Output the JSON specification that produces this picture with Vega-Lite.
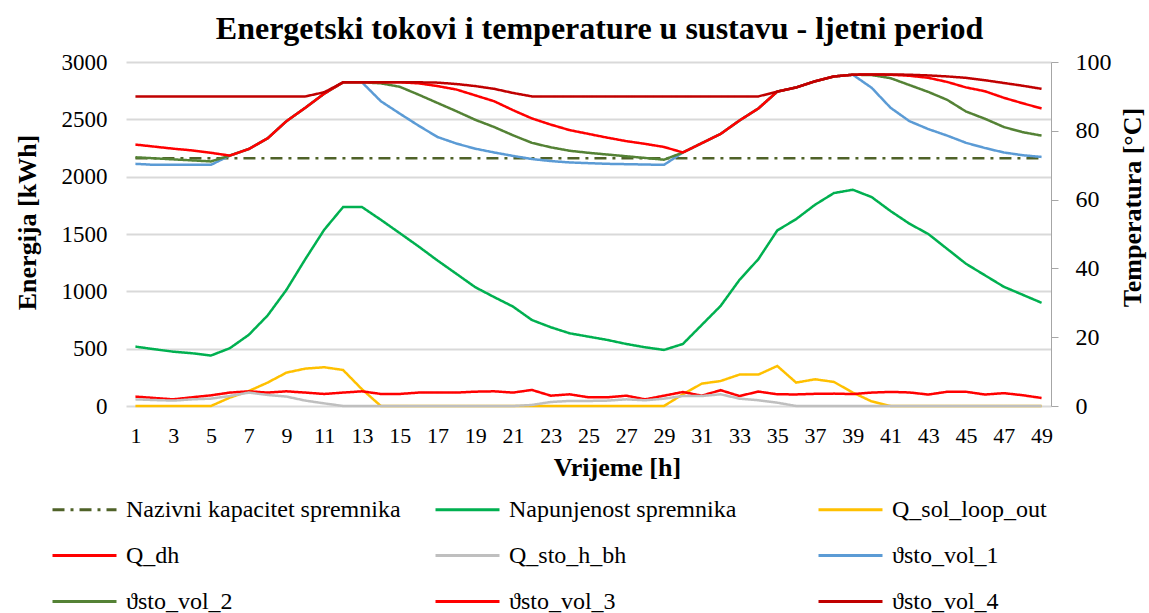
{
  "$schema": "https://vega.github.io/schema/vega-lite/v6.json",
  "autosize": {"type": "none"},
  "padding": {"left": 126, "top": 62, "right": 98, "bottom": 207},
  "width": 925,
  "height": 344,
  "background": "white",
  "title": {
    "text": "Energetski tokovi i temperature u sustavu - ljetni period",
    "font": "Times New Roman, Liberation Serif, serif",
    "fontSize": 32,
    "fontWeight": "bold",
    "color": "black",
    "anchor": "middle",
    "frame": "group",
    "dx": 11,
    "offset": 4
  },
  "data": {
    "values": [
      {"h":1,"naz":2160,"nap":518,"qsol":0,"qdh":82,"qbh":58,"t1":70.4,"t2":72.3,"t3":76.0,"t4":90},
      {"h":2,"naz":2160,"nap":495,"qsol":0,"qdh":70,"qbh":52,"t1":70.1,"t2":72.0,"t3":75.4,"t4":90},
      {"h":3,"naz":2160,"nap":474,"qsol":0,"qdh":58,"qbh":47,"t1":70.1,"t2":71.7,"t3":74.8,"t4":90},
      {"h":4,"naz":2160,"nap":460,"qsol":0,"qdh":76,"qbh":58,"t1":70.1,"t2":71.4,"t3":74.3,"t4":90},
      {"h":5,"naz":2160,"nap":440,"qsol":0,"qdh":93,"qbh":64,"t1":70.1,"t2":71.1,"t3":73.6,"t4":90},
      {"h":6,"naz":2160,"nap":504,"qsol":73,"qdh":117,"qbh":87,"t1":72.8,"t2":72.8,"t3":72.8,"t4":90},
      {"h":7,"naz":2160,"nap":620,"qsol":130,"qdh":128,"qbh":117,"t1":74.7,"t2":74.7,"t3":74.7,"t4":90},
      {"h":8,"naz":2160,"nap":789,"qsol":204,"qdh":117,"qbh":96,"t1":77.8,"t2":77.8,"t3":77.8,"t4":90},
      {"h":9,"naz":2160,"nap":1013,"qsol":291,"qdh":128,"qbh":82,"t1":82.8,"t2":82.8,"t3":82.8,"t4":90},
      {"h":10,"naz":2160,"nap":1281,"qsol":326,"qdh":117,"qbh":47,"t1":86.7,"t2":86.7,"t3":86.7,"t4":90},
      {"h":11,"naz":2160,"nap":1537,"qsol":338,"qdh":105,"qbh":23,"t1":90.8,"t2":90.8,"t3":90.8,"t4":91.2},
      {"h":12,"naz":2160,"nap":1735,"qsol":314,"qdh":117,"qbh":0,"t1":94.1,"t2":94.1,"t3":94.1,"t4":94.1},
      {"h":13,"naz":2160,"nap":1735,"qsol":146,"qdh":128,"qbh":0,"t1":94.1,"t2":94.1,"t3":94.1,"t4":94.1},
      {"h":14,"naz":2160,"nap":1624,"qsol":0,"qdh":105,"qbh":0,"t1":88.6,"t2":93.8,"t3":94.1,"t4":94.1},
      {"h":15,"naz":2160,"nap":1508,"qsol":0,"qdh":105,"qbh":0,"t1":85.0,"t2":92.8,"t3":94.1,"t4":94.1},
      {"h":16,"naz":2160,"nap":1391,"qsol":0,"qdh":117,"qbh":0,"t1":81.5,"t2":90.5,"t3":93.8,"t4":94.1},
      {"h":17,"naz":2160,"nap":1269,"qsol":0,"qdh":117,"qbh":0,"t1":78.2,"t2":88.1,"t3":93.0,"t4":94.0},
      {"h":18,"naz":2160,"nap":1153,"qsol":0,"qdh":117,"qbh":0,"t1":76.3,"t2":85.7,"t3":92.0,"t4":93.6},
      {"h":19,"naz":2160,"nap":1036,"qsol":0,"qdh":125,"qbh":0,"t1":74.8,"t2":83.2,"t3":90.3,"t4":93.0},
      {"h":20,"naz":2160,"nap":950,"qsol":0,"qdh":128,"qbh":0,"t1":73.7,"t2":81.1,"t3":88.6,"t4":92.2},
      {"h":21,"naz":2160,"nap":867,"qsol":0,"qdh":117,"qbh":0,"t1":72.7,"t2":78.7,"t3":86.0,"t4":91.0},
      {"h":22,"naz":2160,"nap":750,"qsol":0,"qdh":140,"qbh":9,"t1":71.8,"t2":76.5,"t3":83.6,"t4":90},
      {"h":23,"naz":2160,"nap":687,"qsol":0,"qdh":90,"qbh":35,"t1":71.2,"t2":75.2,"t3":81.8,"t4":90},
      {"h":24,"naz":2160,"nap":634,"qsol":0,"qdh":102,"qbh":44,"t1":70.8,"t2":74.2,"t3":80.2,"t4":90},
      {"h":25,"naz":2160,"nap":605,"qsol":0,"qdh":76,"qbh":44,"t1":70.6,"t2":73.6,"t3":79.1,"t4":90},
      {"h":26,"naz":2160,"nap":576,"qsol":0,"qdh":76,"qbh":47,"t1":70.4,"t2":73.1,"t3":78.0,"t4":90},
      {"h":27,"naz":2160,"nap":541,"qsol":0,"qdh":90,"qbh":58,"t1":70.3,"t2":72.6,"t3":77.0,"t4":90},
      {"h":28,"naz":2160,"nap":512,"qsol":0,"qdh":58,"qbh":50,"t1":70.2,"t2":72.1,"t3":76.2,"t4":90},
      {"h":29,"naz":2160,"nap":489,"qsol":0,"qdh":90,"qbh":64,"t1":70.1,"t2":71.6,"t3":75.3,"t4":90},
      {"h":30,"naz":2160,"nap":541,"qsol":102,"qdh":122,"qbh":87,"t1":73.7,"t2":73.7,"t3":73.7,"t4":90},
      {"h":31,"naz":2160,"nap":707,"qsol":195,"qdh":90,"qbh":87,"t1":76.4,"t2":76.4,"t3":76.4,"t4":90},
      {"h":32,"naz":2160,"nap":873,"qsol":218,"qdh":138,"qbh":102,"t1":79.1,"t2":79.1,"t3":79.1,"t4":90},
      {"h":33,"naz":2160,"nap":1100,"qsol":274,"qdh":87,"qbh":64,"t1":83.0,"t2":83.0,"t3":83.0,"t4":90},
      {"h":34,"naz":2160,"nap":1281,"qsol":274,"qdh":126,"qbh":50,"t1":86.5,"t2":86.5,"t3":86.5,"t4":90},
      {"h":35,"naz":2160,"nap":1531,"qsol":349,"qdh":102,"qbh":29,"t1":91.4,"t2":91.4,"t3":91.4,"t4":91.4},
      {"h":36,"naz":2160,"nap":1630,"qsol":204,"qdh":101,"qbh":0,"t1":92.6,"t2":92.6,"t3":92.6,"t4":92.6},
      {"h":37,"naz":2160,"nap":1755,"qsol":233,"qdh":106,"qbh":0,"t1":94.4,"t2":94.4,"t3":94.4,"t4":94.4},
      {"h":38,"naz":2160,"nap":1857,"qsol":210,"qdh":108,"qbh":0,"t1":95.8,"t2":95.8,"t3":95.8,"t4":95.8},
      {"h":39,"naz":2160,"nap":1886,"qsol":117,"qdh":104,"qbh":0,"t1":96.3,"t2":96.3,"t3":96.3,"t4":96.3},
      {"h":40,"naz":2160,"nap":1822,"qsol":40,"qdh":117,"qbh":0,"t1":92.5,"t2":96.2,"t3":96.4,"t4":96.4},
      {"h":41,"naz":2160,"nap":1700,"qsol":0,"qdh":123,"qbh":0,"t1":86.7,"t2":95.3,"t3":96.3,"t4":96.4},
      {"h":42,"naz":2160,"nap":1590,"qsol":0,"qdh":118,"qbh":0,"t1":82.8,"t2":93.3,"t3":96.0,"t4":96.3},
      {"h":43,"naz":2160,"nap":1500,"qsol":0,"qdh":100,"qbh":0,"t1":80.5,"t2":91.3,"t3":95.4,"t4":96.1},
      {"h":44,"naz":2160,"nap":1370,"qsol":0,"qdh":124,"qbh":0,"t1":78.6,"t2":89.0,"t3":94.2,"t4":95.8},
      {"h":45,"naz":2160,"nap":1240,"qsol":0,"qdh":124,"qbh":0,"t1":76.5,"t2":85.6,"t3":92.6,"t4":95.4},
      {"h":46,"naz":2160,"nap":1140,"qsol":0,"qdh":100,"qbh":0,"t1":75.0,"t2":83.5,"t3":91.5,"t4":94.7},
      {"h":47,"naz":2160,"nap":1040,"qsol":0,"qdh":112,"qbh":0,"t1":73.7,"t2":81.1,"t3":89.6,"t4":93.9},
      {"h":48,"naz":2160,"nap":970,"qsol":0,"qdh":94,"qbh":0,"t1":72.9,"t2":79.6,"t3":88.0,"t4":93.1},
      {"h":49,"naz":2160,"nap":900,"qsol":0,"qdh":70,"qbh":0,"t1":72.4,"t2":78.6,"t3":86.5,"t4":92.2}
    ]
  },
  "encoding": {
    "x": {
      "field": "h",
      "type": "quantitative",
      "scale": {"domain": [0.5, 49.5], "nice": false, "zero": false},
      "axis": {
        "title": "Vrijeme [h]",
        "values": [1,3,5,7,9,11,13,15,17,19,21,23,25,27,29,31,33,35,37,39,41,43,45,47,49],
        "format": "d",
        "ticks": false,
        "tickSize": 0,
        "domain": false,
        "grid": false,
        "labelFont": "Times New Roman, Liberation Serif, serif",
        "labelFontSize": 22,
        "labelColor": "black",
        "labelPadding": 19,
        "labelFlush": false,
        "labelOverlap": false,
        "titleFont": "Times New Roman, Liberation Serif, serif",
        "titleFontSize": 26,
        "titleFontWeight": "bold",
        "titleColor": "black",
        "titleX": 491,
        "titlePadding": 8
      }
    },
    "color": {
      "field": "s",
      "type": "nominal",
      "scale": {
        "domain": ["naz","nap","qsol","qdh","qbh","t1","t2","t3","t4"],
        "range": ["#4F6228","#00B050","#FFC000","#FF0000","#BFBFBF","#5B9BD5","#548235","#FF0000","#C00000"]
      },
      "legend": {
        "orient": "none",
        "legendX": -75,
        "legendY": 414,
        "title": null,
        "direction": "horizontal",
        "columns": 3,
        "labelFont": "Times New Roman, Liberation Serif, serif",
        "labelFontSize": 24,
        "labelExpr": "{'naz':'Nazivni kapacitet spremnika','nap':'Napunjenost spremnika','qsol':'Q_sol_loop_out','qdh':'Q_dh','qbh':'Q_sto_h_bh','t1':'ϑsto_vol_1','t2':'ϑsto_vol_2','t3':'ϑsto_vol_3','t4':'ϑsto_vol_4'}[datum.label]"
      }
    },
    "strokeDash": {
      "field": "s",
      "type": "nominal",
      "scale": {
        "domain": ["naz","nap","qsol","qdh","qbh","t1","t2","t3","t4"],
        "range": [[12,6,3,6],[1,0],[1,0],[1,0],[1,0],[1,0],[1,0],[1,0],[1,0]]
      },
      "legend": {
        "orient": "none",
        "legendX": -75,
        "legendY": 414,
        "title": null,
        "direction": "horizontal",
        "columns": 3,
        "labelFont": "Times New Roman, Liberation Serif, serif",
        "labelFontSize": 24,
        "labelExpr": "{'naz':'Nazivni kapacitet spremnika','nap':'Napunjenost spremnika','qsol':'Q_sol_loop_out','qdh':'Q_dh','qbh':'Q_sto_h_bh','t1':'ϑsto_vol_1','t2':'ϑsto_vol_2','t3':'ϑsto_vol_3','t4':'ϑsto_vol_4'}[datum.label]"
      }
    }
  },
  "layer": [
    {
      "transform": [{"fold": ["naz","nap","qsol","qdh","qbh"], "as": ["s","v"]}],
      "mark": {"type": "line", "strokeWidth": 2.5},
      "encoding": {
        "y": {
          "field": "v",
          "type": "quantitative",
          "scale": {"domain": [0, 3000], "nice": false},
          "axis": {
            "title": "Energija [kWh]",
            "values": [0,500,1000,1500,2000,2500,3000],
            "format": "d",
            "grid": true,
            "gridColor": "#D9D9D9",
            "gridWidth": 2,
            "ticks": false,
            "tickSize": 0,
            "domain": false,
            "labelFont": "Times New Roman, Liberation Serif, serif",
            "labelFontSize": 23,
            "labelColor": "black",
            "labelPadding": 19,
            "titleFont": "Times New Roman, Liberation Serif, serif",
            "titleFontSize": 26,
            "titleFontWeight": "bold",
            "titleColor": "black",
            "titleY": 160,
            "titlePadding": 21
          }
        }
      }
    },
    {
      "transform": [{"fold": ["t1","t2","t3","t4"], "as": ["s","v"]}],
      "mark": {"type": "line", "strokeWidth": 2.5},
      "encoding": {
        "y": {
          "field": "v",
          "type": "quantitative",
          "scale": {"domain": [0, 100], "nice": false},
          "axis": {
            "orient": "right",
            "title": "Temperatura [°C]",
            "values": [0,20,40,60,80,100],
            "format": "d",
            "grid": false,
            "ticks": true,
            "tickSize": 7,
            "tickColor": "#A6A6A6",
            "domain": true,
            "domainColor": "#A6A6A6",
            "labelFont": "Times New Roman, Liberation Serif, serif",
            "labelFontSize": 24,
            "labelColor": "black",
            "labelPadding": 17,
            "titleFont": "Times New Roman, Liberation Serif, serif",
            "titleFontSize": 26,
            "titleFontWeight": "bold",
            "titleColor": "black",
            "titleAngle": 270,
            "titleBaseline": "top",
            "titleY": 145,
            "titlePadding": 8
          }
        }
      }
    }
  ],
  "resolve": {"scale": {"y": "independent"}},
  "config": {
    "view": {"stroke": null},
    "font": "Times New Roman, Liberation Serif, serif",
    "legend": {
      "symbolType": "stroke",
      "symbolSize": 4096,
      "symbolStrokeWidth": 3,
      "labelFont": "Times New Roman, Liberation Serif, serif",
      "labelFontSize": 24,
      "labelColor": "black",
      "labelOffset": 8,
      "labelLimit": 400,
      "gridAlign": "all",
      "columnPadding": 28,
      "rowPadding": -28,
      "padding": 0
    }
  }
}
